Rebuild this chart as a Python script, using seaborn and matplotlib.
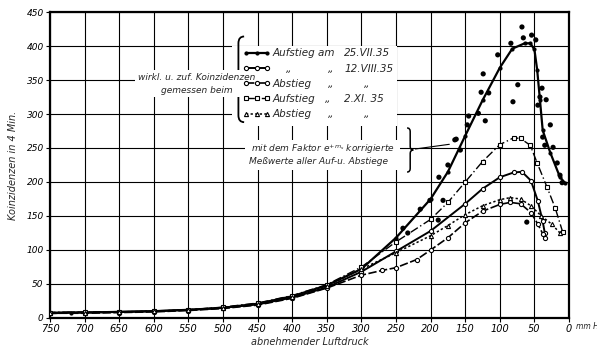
import numpy as np
import pandas as pd
import matplotlib
matplotlib.use("Agg")
import matplotlib.pyplot as plt
import matplotlib.transforms as mtransforms
from matplotlib.lines import Line2D
from matplotlib.patches import Rectangle, PathPatch
from matplotlib.path import Path
from matplotlib.ticker import MultipleLocator
import seaborn as sns

sns.set_style("white")
plt.rcParams["font.family"] = ["DejaVu Sans"]
plt.rcParams["font.style"] = "italic"
plt.rcParams["xtick.bottom"] = True
plt.rcParams["ytick.left"] = True

# Aufstieg am 25.VII.35 (solid, small dots)
a_mm = [750, 720, 700, 650, 600, 550, 500, 450, 400, 350, 300, 250, 200, 175, 150,
        125, 100, 82, 64, 56, 50, 46, 42, 38, 27, 13, 6]
a_val = [7, 8, 8, 9, 10, 12, 15, 21, 32, 48, 72, 118, 175, 215, 268,
         320, 368, 396, 404, 404, 395, 365, 321, 276, 243, 207, 199]

# Aufstieg am 12.VIII.35 (solid, open circles)
b_mm = [750, 700, 650, 600, 550, 500, 450, 400, 350, 300, 250, 200, 150, 125,
        100, 80, 68, 55, 45, 38, 35]
b_val = [8, 8, 9, 10, 12, 15, 20, 30, 45, 68, 98, 128, 168, 190,
         207, 214, 215, 202, 172, 142, 125]

# Abstieg am 12.VIII.35 (dashed, circles)
c_mm = [750, 700, 650, 600, 550, 500, 450, 400, 350, 300, 270, 250, 220, 200, 175,
        150, 125, 100, 85, 70, 55, 45, 38, 35]
c_val = [7, 7, 8, 9, 11, 14, 19, 29, 44, 63, 70, 74, 86, 100, 118,
         140, 157, 167, 170, 168, 155, 138, 124, 118]

# Aufstieg am 2.XI.35 (dash-dot, squares)
d_mm = [750, 700, 650, 600, 550, 500, 450, 400, 350, 300, 250, 200, 175, 150,
        125, 100, 80, 70, 56, 46, 32, 20, 9]
d_val = [8, 9, 9, 10, 12, 16, 22, 33, 49, 75, 112, 145, 170, 200,
         230, 255, 265, 264, 254, 228, 193, 162, 126]

# Abstieg am 2.XI.35 (dotted, triangles)
e_mm = [750, 700, 650, 600, 550, 500, 450, 400, 350, 300, 250, 200, 175, 150,
        125, 100, 85, 70, 55, 40, 25, 13]
e_val = [8, 8, 9, 10, 12, 15, 21, 31, 47, 72, 96, 121, 136, 152,
         165, 174, 177, 175, 165, 150, 138, 125]

# mit dem Faktor korrigierte Messwerte
corr_mm = [68, 54, 48, 66, 84, 103, 124, 74, 81, 116, 127, 39, 42, 33, 45, 131, 145,
           121, 165, 147, 27, 35, 23, 17, 13, 10, 38, 163, 157, 175, 188, 201, 215,
           240, 189, 182, 233, 61]
corr_val = [428, 416, 409, 412, 404, 387, 359, 343, 318, 331, 332, 338, 325, 321, 313,
            301, 297, 290, 262, 284, 284, 254, 251, 228, 210, 199, 266, 263, 247, 225,
            207, 173, 160, 132, 144, 173, 125, 141]

x_ticks = list(range(750, -1, 50))
y_ticks = list(range(0, 451, 50))


def brace(ax, x_tip, x_end, y0, y1, lw=1.2):
    # curly brace in axes coordinates, tip at x_tip, arms ending at x_end
    xm = (x_tip + x_end) / 2
    ym = (y0 + y1) / 2
    k = (y1 - y0) * 0.08
    verts = [(x_end, y1), (xm, y1), (xm, y1 - k), (xm, ym + k), (xm, ym), (x_tip, ym),
             (xm, ym), (xm, ym - k), (xm, y0 + k), (xm, y0), (x_end, y0)]
    codes = [Path.MOVETO, Path.CURVE3, Path.CURVE3, Path.LINETO, Path.CURVE3, Path.CURVE3,
             Path.CURVE3, Path.CURVE3, Path.LINETO, Path.CURVE3, Path.CURVE3]
    ax.add_patch(PathPatch(Path(verts, codes), transform=ax.transAxes, fill=False,
                           lw=lw, color="k", zorder=5, clip_on=False))


pos = [0.0838, 0.0836, 0.8693, 0.8818]
fig = plt.figure(figsize=(5.97, 3.47), dpi=100)

# grid, ticks and frame on a base axes
axg = fig.add_subplot(111)
axg.set_position(pos)
axg.plot([750, 0], [0, 0], alpha=0)
axg.set_xlim(750, 0)
axg.set_ylim(0, 450)
axg.xaxis.set_major_locator(MultipleLocator(50))
axg.set_yticks(y_ticks)
axg.tick_params(axis="both", length=3, width=0.8, pad=1.5, colors="k",
                bottom=True, left=True, labelbottom=True)
axg.tick_params(axis="x", labelsize=7)
axg.tick_params(axis="y", labelsize=6.5)
axg.grid(True, color="k", lw=0.8)
for s in axg.spines.values():
    s.set_linewidth(1.6)
    s.set_color("k")
axg.set_ylabel("Koinzidenzen in 4 Min.", fontsize=7, style="italic", labelpad=6)
axg.text(0.5, -0.078, "abnehmender Luftdruck", transform=axg.transAxes, fontsize=7,
         style="italic", ha="center", va="center")
axg.text(1.013, -0.028, "mm Hg", transform=axg.transAxes, fontsize=5.5, style="italic",
         ha="left", va="center", clip_on=False)

# data on a transparent axes on top
ax = fig.add_axes(pos)
ax.patch.set_alpha(0)

styles = [
    (a_mm, a_val, dict(ls="-", lw=1.6, marker="o", ms=2.2, mfc="k")),
    (b_mm, b_val, dict(ls="-", lw=1.4, marker="o", ms=3, mfc="white")),
    (c_mm, c_val, dict(ls=(0, (5, 1.5)), lw=1.2, marker="o", ms=3, mfc="white")),
    (d_mm, d_val, dict(ls=(0, (6, 2, 1, 2)), lw=1.0, marker="s", ms=3.2, mfc="white")),
    (e_mm, e_val, dict(ls=(0, (1.5, 1.5)), lw=1.1, marker="^", ms=3, mfc="white")),
]
for xs, ys, st in styles:
    df = pd.DataFrame({"mm": xs, "val": ys})
    sns.lineplot(data=df, x="mm", y="val", ax=ax, color="k", mec="k", mew=0.8,
                 estimator=None, zorder=3, **st)

sns.scatterplot(x=corr_mm, y=corr_val, ax=ax, color="k", s=14, edgecolor="none", zorder=4)

ax.set_xlim(750, 0)
ax.set_ylim(0, 450)
ax.axis("off")

# white areas behind the legend texts
ax.add_patch(Rectangle((0.351, 0.627), 0.318, 0.262, transform=ax.transAxes,
                       facecolor="white", edgecolor="none", zorder=1.5))
ax.add_patch(Rectangle((0.376, 0.484), 0.298, 0.098, transform=ax.transAxes,
                       facecolor="white", edgecolor="none", zorder=1.5))

handles = [Line2D([], [], color="k", mec="k", mew=0.8, **st) for _, _, st in styles]
labels = ["Aufstieg am", " ", "Abstieg", "Aufstieg", "Abstieg"]
leg = ax.legend(handles, labels, loc="upper left", bbox_to_anchor=(0.358, 0.905),
                frameon=False, fontsize=7.5, handlelength=2.6, handletextpad=0.2,
                labelspacing=0.5, borderpad=0.2, numpoints=3)
for t in leg.get_texts():
    t.set_style("italic")

fig.canvas.draw()

# if the x tick machinery gives no labels, write them and the vertical grid directly
if len(axg.get_xticklabels()) == 0:
    trans = mtransforms.blended_transform_factory(axg.transData, axg.transAxes)
    for t in x_ticks:
        axg.axvline(t, color="k", lw=0.8, zorder=0.5)
        axg.text(t, -0.028, str(t), transform=trans, fontsize=7, style="italic",
                 ha="center", va="center", clip_on=False)
else:
    for lab in axg.get_xticklabels():
        lab.set_style("italic")

inv = ax.transAxes.inverted()
cols = [
    [(0.567, "25.VII.35")],
    [(0.455, "„"), (0.536, "„"), (0.567, "12.VIII.35")],
    [(0.536, "„"), (0.605, "„")],
    [(0.530, "„"), (0.567, "2.XI. 35")],
    [(0.536, "„"), (0.605, "„")],
]
for t, row in zip(leg.get_texts(), cols):
    bb = t.get_window_extent()
    yc = inv.transform(((bb.x0 + bb.x1) / 2, (bb.y0 + bb.y1) / 2))[1]
    for xf, s in row:
        ax.text(xf, yc, s, transform=ax.transAxes, fontsize=7.5, style="italic",
                ha="left", va="center", zorder=5)

brace(ax, 0.352, 0.374, 0.640, 0.920, lw=1.3)
ax.text(0.282, 0.765, "wirkl. u. zuf. Koinzidenzen\ngemessen beim", transform=ax.transAxes,
        fontsize=6.5, style="italic", ha="center", va="center", linespacing=1.5, zorder=5,
        bbox=dict(facecolor="white", edgecolor="none", pad=2))

ax.text(0.388, 0.553, "mit dem Faktor $e^{+m_s}$ korrigierte", transform=ax.transAxes,
        fontsize=6.5, style="italic", ha="left", va="center", zorder=5)
ax.text(0.384, 0.510, "Meßwerte aller Auf-u. Abstiege", transform=ax.transAxes,
        fontsize=6.5, style="italic", ha="left", va="center", zorder=5)
brace(ax, 0.700, 0.688, 0.477, 0.621, lw=1.1)
ax.annotate("", xy=(169, 256), xytext=(226, 248),
            arrowprops=dict(arrowstyle="-", color="k", lw=0.8), zorder=5)

fig.savefig("out.png", dpi=100)
